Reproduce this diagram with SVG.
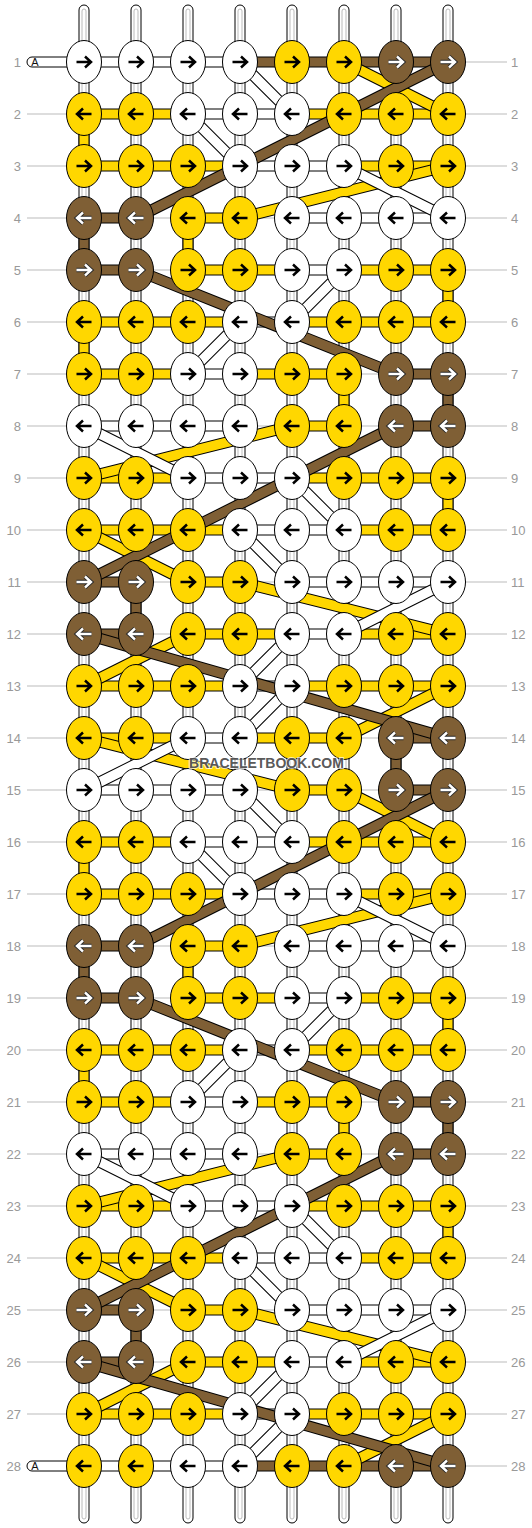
<svg xmlns="http://www.w3.org/2000/svg" xmlns:xlink="http://www.w3.org/1999/xlink" width="532" height="1528" viewBox="0 0 532 1528">
<style>
.e{stroke:#000;stroke-width:1}
.W{fill:#fff}.Y{fill:#ffd700}.B{fill:#7f5f35}
.ak{fill:none;stroke:#000;stroke-width:2.5}
.ao{fill:none;stroke:#2a2a2a;stroke-width:4.4}
.aw{fill:none;stroke:#fff;stroke-width:2.4}
.bo{fill:none;stroke:#000;stroke-width:11.5}
.fW{fill:none;stroke:#fff;stroke-width:9.5}
.fY{fill:none;stroke:#ffd700;stroke-width:9.5}
.fB{fill:none;stroke:#7f5f35;stroke-width:9.5}
.lab{font-family:"Liberation Sans",Arial,sans-serif;font-size:13px;fill:#999}
.rl{fill:none;stroke:#bbb;stroke-width:1}
.gs{fill:none;stroke:#bbb;stroke-width:1}
</style>
<defs>
<path id="aR" d="M-7.5 0H6.5M1 -5.5L7 0L1 5.5"/>
<path id="aL" d="M7.5 0H-6.5M-1 -5.5L-7 0L-1 5.5"/>
<g id="WR"><ellipse class="e W" rx="17.5" ry="21.5"/><use href="#aR" class="ak"/></g>
<g id="WL"><ellipse class="e W" rx="17.5" ry="21.5"/><use href="#aL" class="ak"/></g>
<g id="YR"><ellipse class="e Y" rx="17.5" ry="21.5"/><use href="#aR" class="ak"/></g>
<g id="YL"><ellipse class="e Y" rx="17.5" ry="21.5"/><use href="#aL" class="ak"/></g>
<g id="BR"><ellipse class="e B" rx="17.5" ry="21.5"/><use href="#aR" class="ao"/><use href="#aR" class="aw"/></g>
<g id="BL"><ellipse class="e B" rx="17.5" ry="21.5"/><use href="#aL" class="ao"/><use href="#aL" class="aw"/></g>
<rect id="hW" class="e W" width="52" height="10"/>
<rect id="hY" class="e Y" width="52" height="10"/>
<rect id="hB" class="e B" width="52" height="10"/>
<rect id="vY" class="e Y" width="10" height="52"/>
<rect id="vB" class="e B" width="10" height="52"/>
<g id="H1s"><use href="#hW" x="84" y="-5"/><use href="#hW" x="136" y="-5"/><use href="#hW" x="188" y="-5"/><use href="#hB" x="240" y="-5"/><use href="#hB" x="292" y="-5"/><use href="#hB" x="344" y="-5"/><use href="#hB" x="396" y="-5"/></g>
<g id="H1"><use href="#hW" x="84" y="-5"/><use href="#hW" x="136" y="-5"/><use href="#hW" x="188" y="-5"/><use href="#hY" x="292" y="-5"/><use href="#hB" x="396" y="-5"/></g>
<g id="H2"><use href="#hY" x="84" y="-5"/><use href="#hY" x="136" y="-5"/><use href="#hW" x="188" y="-5"/><use href="#hW" x="240" y="-5"/><use href="#hY" x="292" y="-5"/><use href="#hY" x="344" y="-5"/><use href="#hY" x="396" y="-5"/></g>
<g id="H3"><use href="#hY" x="84" y="-5"/><use href="#hY" x="136" y="-5"/><use href="#hY" x="188" y="-5"/><use href="#hW" x="240" y="-5"/><use href="#hW" x="292" y="-5"/><use href="#hY" x="344" y="-5"/><use href="#hY" x="396" y="-5"/></g>
<g id="H4"><use href="#hB" x="84" y="-5"/><use href="#hY" x="188" y="-5"/><use href="#hW" x="292" y="-5"/><use href="#hW" x="344" y="-5"/><use href="#hW" x="396" y="-5"/></g>
<g id="H5"><use href="#hB" x="84" y="-5"/><use href="#hY" x="188" y="-5"/><use href="#hY" x="240" y="-5"/><use href="#hW" x="292" y="-5"/><use href="#hY" x="344" y="-5"/><use href="#hY" x="396" y="-5"/></g>
<g id="H6"><use href="#hY" x="84" y="-5"/><use href="#hY" x="136" y="-5"/><use href="#hY" x="188" y="-5"/><use href="#hW" x="240" y="-5"/><use href="#hY" x="292" y="-5"/><use href="#hY" x="344" y="-5"/><use href="#hY" x="396" y="-5"/></g>
<g id="H7"><use href="#hY" x="84" y="-5"/><use href="#hY" x="136" y="-5"/><use href="#hW" x="188" y="-5"/><use href="#hY" x="240" y="-5"/><use href="#hY" x="292" y="-5"/><use href="#hB" x="396" y="-5"/></g>
<path id="pW" d="M240 62L292 114M188 114L240 166M344 166L448 218M344 270L292 322M240 322L188 374M84 426L188 478M292 478L344 530M240 530L292 582M448 582L344 634M292 634L240 686M292 686L240 738M188 738L84 790M240 790L292 842M188 842L240 894M344 894L448 946M344 998L292 1050M240 1050L188 1102M84 1154L188 1206M292 1206L344 1258M240 1258L292 1310M448 1310L344 1362M292 1362L240 1414M292 1414L240 1466"/>
<path id="pY" d="M344 62L448 114M448 166L240 218M292 426L84 478M84 530L188 582M240 582L448 634M188 634L84 686M448 686L344 738M84 738L292 790M344 790L448 842M448 894L240 946M292 1154L84 1206M84 1258L188 1310M240 1310L448 1362M188 1362L84 1414M448 1414L344 1466"/>
<path id="pB" d="M448 62L136 218M136 270L396 374M396 426L84 582M84 634L448 738M448 790L136 946M136 998L396 1102M396 1154L84 1310M84 1362L448 1466"/>
</defs>
<rect width="532" height="1528" fill="#fff"/>
<path class="rl" d="M27 62H507M27 114H507M27 166H507M27 218H507M27 270H507M27 322H507M27 374H507M27 426H507M27 478H507M27 530H507M27 582H507M27 634H507M27 686H507M27 738H507M27 790H507M27 842H507M27 894H507M27 946H507M27 998H507M27 1050H507M27 1102H507M27 1154H507M27 1206H507M27 1258H507M27 1310H507M27 1362H507M27 1414H507M27 1466H507"/>
<g id="labels" class="lab">
<text x="21" y="66.5" text-anchor="end">1</text><text x="511" y="66.5">1</text>
<text x="21" y="118.5" text-anchor="end">2</text><text x="511" y="118.5">2</text>
<text x="21" y="170.5" text-anchor="end">3</text><text x="511" y="170.5">3</text>
<text x="21" y="222.5" text-anchor="end">4</text><text x="511" y="222.5">4</text>
<text x="21" y="274.5" text-anchor="end">5</text><text x="511" y="274.5">5</text>
<text x="21" y="326.5" text-anchor="end">6</text><text x="511" y="326.5">6</text>
<text x="21" y="378.5" text-anchor="end">7</text><text x="511" y="378.5">7</text>
<text x="21" y="430.5" text-anchor="end">8</text><text x="511" y="430.5">8</text>
<text x="21" y="482.5" text-anchor="end">9</text><text x="511" y="482.5">9</text>
<text x="21" y="534.5" text-anchor="end">10</text><text x="511" y="534.5">10</text>
<text x="21" y="586.5" text-anchor="end">11</text><text x="511" y="586.5">11</text>
<text x="21" y="638.5" text-anchor="end">12</text><text x="511" y="638.5">12</text>
<text x="21" y="690.5" text-anchor="end">13</text><text x="511" y="690.5">13</text>
<text x="21" y="742.5" text-anchor="end">14</text><text x="511" y="742.5">14</text>
<text x="21" y="794.5" text-anchor="end">15</text><text x="511" y="794.5">15</text>
<text x="21" y="846.5" text-anchor="end">16</text><text x="511" y="846.5">16</text>
<text x="21" y="898.5" text-anchor="end">17</text><text x="511" y="898.5">17</text>
<text x="21" y="950.5" text-anchor="end">18</text><text x="511" y="950.5">18</text>
<text x="21" y="1002.5" text-anchor="end">19</text><text x="511" y="1002.5">19</text>
<text x="21" y="1054.5" text-anchor="end">20</text><text x="511" y="1054.5">20</text>
<text x="21" y="1106.5" text-anchor="end">21</text><text x="511" y="1106.5">21</text>
<text x="21" y="1158.5" text-anchor="end">22</text><text x="511" y="1158.5">22</text>
<text x="21" y="1210.5" text-anchor="end">23</text><text x="511" y="1210.5">23</text>
<text x="21" y="1262.5" text-anchor="end">24</text><text x="511" y="1262.5">24</text>
<text x="21" y="1314.5" text-anchor="end">25</text><text x="511" y="1314.5">25</text>
<text x="21" y="1366.5" text-anchor="end">26</text><text x="511" y="1366.5">26</text>
<text x="21" y="1418.5" text-anchor="end">27</text><text x="511" y="1418.5">27</text>
<text x="21" y="1470.5" text-anchor="end">28</text><text x="511" y="1470.5">28</text>
</g>
<g id="warps">
<rect class="e W" x="79" y="5" width="10" height="1518" rx="5"/><rect class="gs" x="82" y="9" width="4" height="1510" rx="2"/>
<rect class="e W" x="131" y="5" width="10" height="1518" rx="5"/><rect class="gs" x="134" y="9" width="4" height="1510" rx="2"/>
<rect class="e W" x="183" y="5" width="10" height="1518" rx="5"/><rect class="gs" x="186" y="9" width="4" height="1510" rx="2"/>
<rect class="e W" x="235" y="5" width="10" height="1518" rx="5"/><rect class="gs" x="238" y="9" width="4" height="1510" rx="2"/>
<rect class="e W" x="287" y="5" width="10" height="1518" rx="5"/><rect class="gs" x="290" y="9" width="4" height="1510" rx="2"/>
<rect class="e W" x="339" y="5" width="10" height="1518" rx="5"/><rect class="gs" x="342" y="9" width="4" height="1510" rx="2"/>
<rect class="e W" x="391" y="5" width="10" height="1518" rx="5"/><rect class="gs" x="394" y="9" width="4" height="1510" rx="2"/>
<rect class="e W" x="443" y="5" width="10" height="1518" rx="5"/><rect class="gs" x="446" y="9" width="4" height="1510" rx="2"/>
</g>
<g id="connectors">
<g id="tubeA">
<rect class="e W" x="27" y="57" width="62" height="10" rx="5"/>
<text x="35" y="66" text-anchor="middle" font-family="Liberation Sans, Arial, sans-serif" font-size="11" fill="#111">A</text>
<rect class="e W" x="27" y="1461" width="62" height="10" rx="5"/>
<text x="35" y="1470" text-anchor="middle" font-family="Liberation Sans, Arial, sans-serif" font-size="11" fill="#111">A</text>
</g>
<use href="#H1s" y="62"/><use href="#H2" y="114"/><use href="#H3" y="166"/><use href="#H4" y="218"/><use href="#H5" y="270"/><use href="#H6" y="322"/><use href="#H7" y="374"/>
<use href="#H1" y="426"/><use href="#H2" y="478"/><use href="#H3" y="530"/><use href="#H4" y="582"/><use href="#H5" y="634"/><use href="#H6" y="686"/><use href="#H7" y="738"/>
<use href="#H1" y="790"/><use href="#H2" y="842"/><use href="#H3" y="894"/><use href="#H4" y="946"/><use href="#H5" y="998"/><use href="#H6" y="1050"/><use href="#H7" y="1102"/>
<use href="#H1" y="1154"/><use href="#H2" y="1206"/><use href="#H3" y="1258"/><use href="#H4" y="1310"/><use href="#H5" y="1362"/><use href="#H6" y="1414"/><use href="#H1s" y="1466"/>
<use href="#vY" x="79" y="114"/><use href="#vY" x="183" y="218"/><use href="#vY" x="443" y="270"/><use href="#vY" x="79" y="322"/><use href="#vY" x="339" y="374"/><use href="#vY" x="443" y="478"/>
<use href="#vB" x="79" y="218"/><use href="#vB" x="443" y="374"/><use href="#vB" x="131" y="582"/><use href="#vB" x="391" y="738"/>
<use href="#vY" x="79" y="842"/><use href="#vY" x="183" y="946"/><use href="#vY" x="443" y="998"/><use href="#vY" x="79" y="1050"/><use href="#vY" x="339" y="1102"/><use href="#vY" x="443" y="1206"/>
<use href="#vB" x="79" y="946"/><use href="#vB" x="443" y="1102"/><use href="#vB" x="131" y="1310"/>
<use href="#pY" class="bo"/><use href="#pY" class="fY"/>
<use href="#pW" class="bo"/><use href="#pW" class="fW"/>
<use href="#pB" class="bo"/><use href="#pB" class="fB"/>
</g>
<g id="nodes">
<g id="n1-1"><use href="#WR" x="84" y="62"/></g><g id="n1-2"><use href="#WR" x="136" y="62"/></g><g id="n1-3"><use href="#WR" x="188" y="62"/></g><g id="n1-4"><use href="#WR" x="240" y="62"/></g><g id="n1-5"><use href="#YR" x="292" y="62"/></g><g id="n1-6"><use href="#YR" x="344" y="62"/></g><g id="n1-7"><use href="#BR" x="396" y="62"/></g><g id="n1-8"><use href="#BR" x="448" y="62"/></g>
<g id="n2-1"><use href="#YL" x="84" y="114"/></g><g id="n2-2"><use href="#YL" x="136" y="114"/></g><g id="n2-3"><use href="#WL" x="188" y="114"/></g><g id="n2-4"><use href="#WL" x="240" y="114"/></g><g id="n2-5"><use href="#WL" x="292" y="114"/></g><g id="n2-6"><use href="#YL" x="344" y="114"/></g><g id="n2-7"><use href="#YL" x="396" y="114"/></g><g id="n2-8"><use href="#YL" x="448" y="114"/></g>
<g id="n3-1"><use href="#YR" x="84" y="166"/></g><g id="n3-2"><use href="#YR" x="136" y="166"/></g><g id="n3-3"><use href="#YR" x="188" y="166"/></g><g id="n3-4"><use href="#WR" x="240" y="166"/></g><g id="n3-5"><use href="#WR" x="292" y="166"/></g><g id="n3-6"><use href="#WR" x="344" y="166"/></g><g id="n3-7"><use href="#YR" x="396" y="166"/></g><g id="n3-8"><use href="#YR" x="448" y="166"/></g>
<g id="n4-1"><use href="#BL" x="84" y="218"/></g><g id="n4-2"><use href="#BL" x="136" y="218"/></g><g id="n4-3"><use href="#YL" x="188" y="218"/></g><g id="n4-4"><use href="#YL" x="240" y="218"/></g><g id="n4-5"><use href="#WL" x="292" y="218"/></g><g id="n4-6"><use href="#WL" x="344" y="218"/></g><g id="n4-7"><use href="#WL" x="396" y="218"/></g><g id="n4-8"><use href="#WL" x="448" y="218"/></g>
<g id="n5-1"><use href="#BR" x="84" y="270"/></g><g id="n5-2"><use href="#BR" x="136" y="270"/></g><g id="n5-3"><use href="#YR" x="188" y="270"/></g><g id="n5-4"><use href="#YR" x="240" y="270"/></g><g id="n5-5"><use href="#WR" x="292" y="270"/></g><g id="n5-6"><use href="#WR" x="344" y="270"/></g><g id="n5-7"><use href="#YR" x="396" y="270"/></g><g id="n5-8"><use href="#YR" x="448" y="270"/></g>
<g id="n6-1"><use href="#YL" x="84" y="322"/></g><g id="n6-2"><use href="#YL" x="136" y="322"/></g><g id="n6-3"><use href="#YL" x="188" y="322"/></g><g id="n6-4"><use href="#WL" x="240" y="322"/></g><g id="n6-5"><use href="#WL" x="292" y="322"/></g><g id="n6-6"><use href="#YL" x="344" y="322"/></g><g id="n6-7"><use href="#YL" x="396" y="322"/></g><g id="n6-8"><use href="#YL" x="448" y="322"/></g>
<g id="n7-1"><use href="#YR" x="84" y="374"/></g><g id="n7-2"><use href="#YR" x="136" y="374"/></g><g id="n7-3"><use href="#WR" x="188" y="374"/></g><g id="n7-4"><use href="#WR" x="240" y="374"/></g><g id="n7-5"><use href="#YR" x="292" y="374"/></g><g id="n7-6"><use href="#YR" x="344" y="374"/></g><g id="n7-7"><use href="#BR" x="396" y="374"/></g><g id="n7-8"><use href="#BR" x="448" y="374"/></g>
<g id="n8-1"><use href="#WL" x="84" y="426"/></g><g id="n8-2"><use href="#WL" x="136" y="426"/></g><g id="n8-3"><use href="#WL" x="188" y="426"/></g><g id="n8-4"><use href="#WL" x="240" y="426"/></g><g id="n8-5"><use href="#YL" x="292" y="426"/></g><g id="n8-6"><use href="#YL" x="344" y="426"/></g><g id="n8-7"><use href="#BL" x="396" y="426"/></g><g id="n8-8"><use href="#BL" x="448" y="426"/></g>
<g id="n9-1"><use href="#YR" x="84" y="478"/></g><g id="n9-2"><use href="#YR" x="136" y="478"/></g><g id="n9-3"><use href="#WR" x="188" y="478"/></g><g id="n9-4"><use href="#WR" x="240" y="478"/></g><g id="n9-5"><use href="#WR" x="292" y="478"/></g><g id="n9-6"><use href="#YR" x="344" y="478"/></g><g id="n9-7"><use href="#YR" x="396" y="478"/></g><g id="n9-8"><use href="#YR" x="448" y="478"/></g>
<g id="n10-1"><use href="#YL" x="84" y="530"/></g><g id="n10-2"><use href="#YL" x="136" y="530"/></g><g id="n10-3"><use href="#YL" x="188" y="530"/></g><g id="n10-4"><use href="#WL" x="240" y="530"/></g><g id="n10-5"><use href="#WL" x="292" y="530"/></g><g id="n10-6"><use href="#WL" x="344" y="530"/></g><g id="n10-7"><use href="#YL" x="396" y="530"/></g><g id="n10-8"><use href="#YL" x="448" y="530"/></g>
<g id="n11-1"><use href="#BR" x="84" y="582"/></g><g id="n11-2"><use href="#BR" x="136" y="582"/></g><g id="n11-3"><use href="#YR" x="188" y="582"/></g><g id="n11-4"><use href="#YR" x="240" y="582"/></g><g id="n11-5"><use href="#WR" x="292" y="582"/></g><g id="n11-6"><use href="#WR" x="344" y="582"/></g><g id="n11-7"><use href="#WR" x="396" y="582"/></g><g id="n11-8"><use href="#WR" x="448" y="582"/></g>
<g id="n12-1"><use href="#BL" x="84" y="634"/></g><g id="n12-2"><use href="#BL" x="136" y="634"/></g><g id="n12-3"><use href="#YL" x="188" y="634"/></g><g id="n12-4"><use href="#YL" x="240" y="634"/></g><g id="n12-5"><use href="#WL" x="292" y="634"/></g><g id="n12-6"><use href="#WL" x="344" y="634"/></g><g id="n12-7"><use href="#YL" x="396" y="634"/></g><g id="n12-8"><use href="#YL" x="448" y="634"/></g>
<g id="n13-1"><use href="#YR" x="84" y="686"/></g><g id="n13-2"><use href="#YR" x="136" y="686"/></g><g id="n13-3"><use href="#YR" x="188" y="686"/></g><g id="n13-4"><use href="#WR" x="240" y="686"/></g><g id="n13-5"><use href="#WR" x="292" y="686"/></g><g id="n13-6"><use href="#YR" x="344" y="686"/></g><g id="n13-7"><use href="#YR" x="396" y="686"/></g><g id="n13-8"><use href="#YR" x="448" y="686"/></g>
<g id="n14-1"><use href="#YL" x="84" y="738"/></g><g id="n14-2"><use href="#YL" x="136" y="738"/></g><g id="n14-3"><use href="#WL" x="188" y="738"/></g><g id="n14-4"><use href="#WL" x="240" y="738"/></g><g id="n14-5"><use href="#YL" x="292" y="738"/></g><g id="n14-6"><use href="#YL" x="344" y="738"/></g><g id="n14-7"><use href="#BL" x="396" y="738"/></g><g id="n14-8"><use href="#BL" x="448" y="738"/></g>
<g id="n15-1"><use href="#WR" x="84" y="790"/></g><g id="n15-2"><use href="#WR" x="136" y="790"/></g><g id="n15-3"><use href="#WR" x="188" y="790"/></g><g id="n15-4"><use href="#WR" x="240" y="790"/></g><g id="n15-5"><use href="#YR" x="292" y="790"/></g><g id="n15-6"><use href="#YR" x="344" y="790"/></g><g id="n15-7"><use href="#BR" x="396" y="790"/></g><g id="n15-8"><use href="#BR" x="448" y="790"/></g>
<g id="n16-1"><use href="#YL" x="84" y="842"/></g><g id="n16-2"><use href="#YL" x="136" y="842"/></g><g id="n16-3"><use href="#WL" x="188" y="842"/></g><g id="n16-4"><use href="#WL" x="240" y="842"/></g><g id="n16-5"><use href="#WL" x="292" y="842"/></g><g id="n16-6"><use href="#YL" x="344" y="842"/></g><g id="n16-7"><use href="#YL" x="396" y="842"/></g><g id="n16-8"><use href="#YL" x="448" y="842"/></g>
<g id="n17-1"><use href="#YR" x="84" y="894"/></g><g id="n17-2"><use href="#YR" x="136" y="894"/></g><g id="n17-3"><use href="#YR" x="188" y="894"/></g><g id="n17-4"><use href="#WR" x="240" y="894"/></g><g id="n17-5"><use href="#WR" x="292" y="894"/></g><g id="n17-6"><use href="#WR" x="344" y="894"/></g><g id="n17-7"><use href="#YR" x="396" y="894"/></g><g id="n17-8"><use href="#YR" x="448" y="894"/></g>
<g id="n18-1"><use href="#BL" x="84" y="946"/></g><g id="n18-2"><use href="#BL" x="136" y="946"/></g><g id="n18-3"><use href="#YL" x="188" y="946"/></g><g id="n18-4"><use href="#YL" x="240" y="946"/></g><g id="n18-5"><use href="#WL" x="292" y="946"/></g><g id="n18-6"><use href="#WL" x="344" y="946"/></g><g id="n18-7"><use href="#WL" x="396" y="946"/></g><g id="n18-8"><use href="#WL" x="448" y="946"/></g>
<g id="n19-1"><use href="#BR" x="84" y="998"/></g><g id="n19-2"><use href="#BR" x="136" y="998"/></g><g id="n19-3"><use href="#YR" x="188" y="998"/></g><g id="n19-4"><use href="#YR" x="240" y="998"/></g><g id="n19-5"><use href="#WR" x="292" y="998"/></g><g id="n19-6"><use href="#WR" x="344" y="998"/></g><g id="n19-7"><use href="#YR" x="396" y="998"/></g><g id="n19-8"><use href="#YR" x="448" y="998"/></g>
<g id="n20-1"><use href="#YL" x="84" y="1050"/></g><g id="n20-2"><use href="#YL" x="136" y="1050"/></g><g id="n20-3"><use href="#YL" x="188" y="1050"/></g><g id="n20-4"><use href="#WL" x="240" y="1050"/></g><g id="n20-5"><use href="#WL" x="292" y="1050"/></g><g id="n20-6"><use href="#YL" x="344" y="1050"/></g><g id="n20-7"><use href="#YL" x="396" y="1050"/></g><g id="n20-8"><use href="#YL" x="448" y="1050"/></g>
<g id="n21-1"><use href="#YR" x="84" y="1102"/></g><g id="n21-2"><use href="#YR" x="136" y="1102"/></g><g id="n21-3"><use href="#WR" x="188" y="1102"/></g><g id="n21-4"><use href="#WR" x="240" y="1102"/></g><g id="n21-5"><use href="#YR" x="292" y="1102"/></g><g id="n21-6"><use href="#YR" x="344" y="1102"/></g><g id="n21-7"><use href="#BR" x="396" y="1102"/></g><g id="n21-8"><use href="#BR" x="448" y="1102"/></g>
<g id="n22-1"><use href="#WL" x="84" y="1154"/></g><g id="n22-2"><use href="#WL" x="136" y="1154"/></g><g id="n22-3"><use href="#WL" x="188" y="1154"/></g><g id="n22-4"><use href="#WL" x="240" y="1154"/></g><g id="n22-5"><use href="#YL" x="292" y="1154"/></g><g id="n22-6"><use href="#YL" x="344" y="1154"/></g><g id="n22-7"><use href="#BL" x="396" y="1154"/></g><g id="n22-8"><use href="#BL" x="448" y="1154"/></g>
<g id="n23-1"><use href="#YR" x="84" y="1206"/></g><g id="n23-2"><use href="#YR" x="136" y="1206"/></g><g id="n23-3"><use href="#WR" x="188" y="1206"/></g><g id="n23-4"><use href="#WR" x="240" y="1206"/></g><g id="n23-5"><use href="#WR" x="292" y="1206"/></g><g id="n23-6"><use href="#YR" x="344" y="1206"/></g><g id="n23-7"><use href="#YR" x="396" y="1206"/></g><g id="n23-8"><use href="#YR" x="448" y="1206"/></g>
<g id="n24-1"><use href="#YL" x="84" y="1258"/></g><g id="n24-2"><use href="#YL" x="136" y="1258"/></g><g id="n24-3"><use href="#YL" x="188" y="1258"/></g><g id="n24-4"><use href="#WL" x="240" y="1258"/></g><g id="n24-5"><use href="#WL" x="292" y="1258"/></g><g id="n24-6"><use href="#WL" x="344" y="1258"/></g><g id="n24-7"><use href="#YL" x="396" y="1258"/></g><g id="n24-8"><use href="#YL" x="448" y="1258"/></g>
<g id="n25-1"><use href="#BR" x="84" y="1310"/></g><g id="n25-2"><use href="#BR" x="136" y="1310"/></g><g id="n25-3"><use href="#YR" x="188" y="1310"/></g><g id="n25-4"><use href="#YR" x="240" y="1310"/></g><g id="n25-5"><use href="#WR" x="292" y="1310"/></g><g id="n25-6"><use href="#WR" x="344" y="1310"/></g><g id="n25-7"><use href="#WR" x="396" y="1310"/></g><g id="n25-8"><use href="#WR" x="448" y="1310"/></g>
<g id="n26-1"><use href="#BL" x="84" y="1362"/></g><g id="n26-2"><use href="#BL" x="136" y="1362"/></g><g id="n26-3"><use href="#YL" x="188" y="1362"/></g><g id="n26-4"><use href="#YL" x="240" y="1362"/></g><g id="n26-5"><use href="#WL" x="292" y="1362"/></g><g id="n26-6"><use href="#WL" x="344" y="1362"/></g><g id="n26-7"><use href="#YL" x="396" y="1362"/></g><g id="n26-8"><use href="#YL" x="448" y="1362"/></g>
<g id="n27-1"><use href="#YR" x="84" y="1414"/></g><g id="n27-2"><use href="#YR" x="136" y="1414"/></g><g id="n27-3"><use href="#YR" x="188" y="1414"/></g><g id="n27-4"><use href="#WR" x="240" y="1414"/></g><g id="n27-5"><use href="#WR" x="292" y="1414"/></g><g id="n27-6"><use href="#YR" x="344" y="1414"/></g><g id="n27-7"><use href="#YR" x="396" y="1414"/></g><g id="n27-8"><use href="#YR" x="448" y="1414"/></g>
<g id="n28-1"><use href="#YL" x="84" y="1466"/></g><g id="n28-2"><use href="#YL" x="136" y="1466"/></g><g id="n28-3"><use href="#WL" x="188" y="1466"/></g><g id="n28-4"><use href="#WL" x="240" y="1466"/></g><g id="n28-5"><use href="#YL" x="292" y="1466"/></g><g id="n28-6"><use href="#YL" x="344" y="1466"/></g><g id="n28-7"><use href="#BL" x="396" y="1466"/></g><g id="n28-8"><use href="#BL" x="448" y="1466"/></g>
</g>
<text x="266.5" y="768" text-anchor="middle" font-family="Liberation Sans, Arial, sans-serif" font-weight="bold" font-size="14" fill="#444" fill-opacity="0.9" stroke="#fff" stroke-opacity="0.7" stroke-width="2" paint-order="stroke">BRACELETBOOK.COM</text>
</svg>
